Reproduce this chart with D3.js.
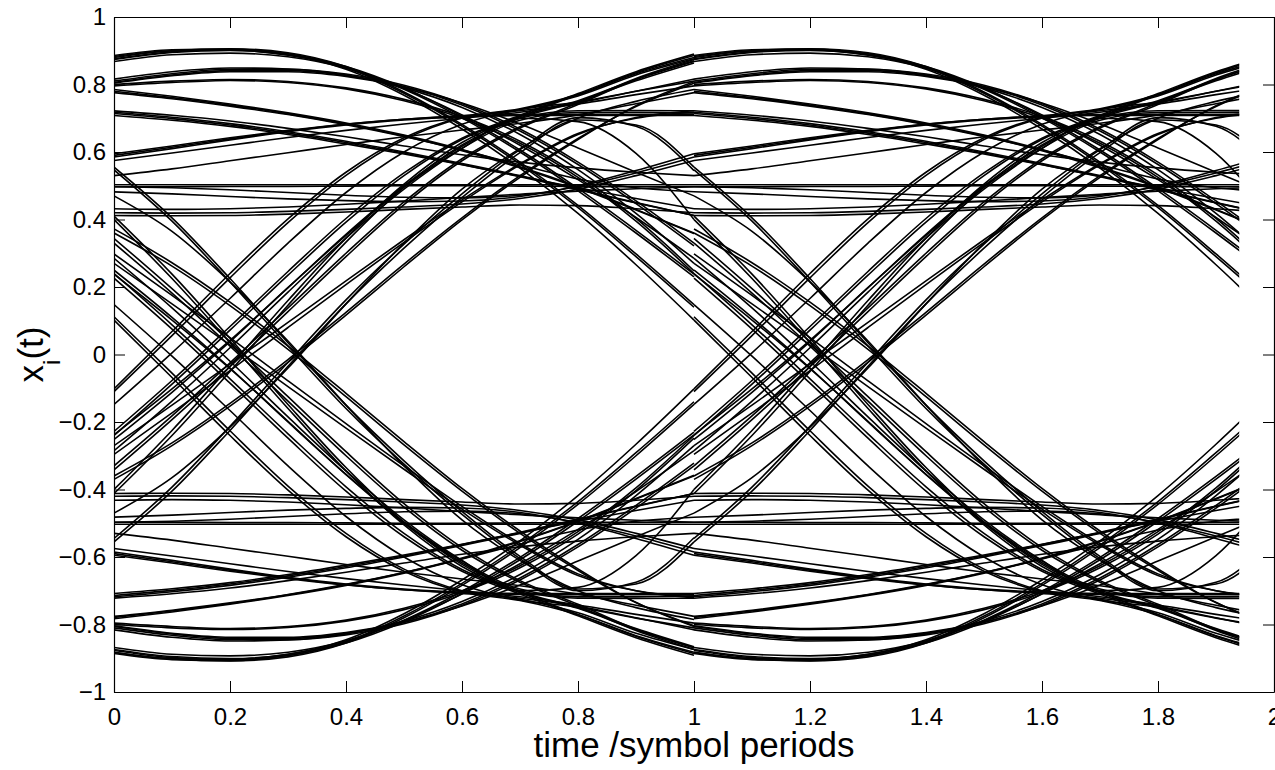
<!DOCTYPE html>
<html>
<head>
<meta charset="utf-8">
<script src="https://cdn.jsdelivr.net/npm/d3@7"></script>
<style>
  body { margin: 0; background: #fff; }
  svg { display: block; }
  text { font-family: "Liberation Sans", Arial, Helvetica, sans-serif; fill: #000; }
</style>
</head>
<body>
<svg id="chart" width="1275" height="770"></svg>
<script>
// Eye diagram: every trace piece is one symbol period long
// at t = 0, 0.1, ... 1.0 and drawn once for each period on the time axis.
const sampleTimes = [0, 0.1, 0.2, 0.3, 0.4, 0.5, 0.6, 0.7, 0.8, 0.9, 1.0];
const periodStarts = [0, 1];
const traceEnd = 1.94;

const xTicks = [0, 0.2, 0.4, 0.6, 0.8, 1, 1.2, 1.4, 1.6, 1.8, 2];
const yTicks = [-1, -0.8, -0.6, -0.4, -0.2, 0, 0.2, 0.4, 0.6, 0.8, 1];

// high arcs, no zero crossing near t = 0.2
const upperArcs = [
  [0.880, 0.900, 0.906, 0.894, 0.853, 0.778, 0.682, 0.570, 0.442, 0.298, 0.148],
  [0.876, 0.897, 0.903, 0.891, 0.850, 0.774, 0.677, 0.564, 0.435, 0.290, 0.140],
  [0.874, 0.895, 0.901, 0.888, 0.845, 0.768, 0.668, 0.552, 0.418, 0.266, 0.102],
  [0.886, 0.903, 0.905, 0.890, 0.853, 0.790, 0.706, 0.606, 0.492, 0.368, 0.238],
  [0.883, 0.900, 0.902, 0.887, 0.850, 0.786, 0.701, 0.600, 0.485, 0.360, 0.230],
  [0.868, 0.888, 0.893, 0.882, 0.848, 0.788, 0.710, 0.620, 0.518, 0.406, 0.285],
  [0.810, 0.832, 0.845, 0.845, 0.831, 0.798, 0.744, 0.668, 0.570, 0.455, 0.330],
  [0.806, 0.828, 0.841, 0.841, 0.827, 0.794, 0.739, 0.662, 0.563, 0.447, 0.322],
  [0.816, 0.838, 0.849, 0.846, 0.828, 0.790, 0.732, 0.652, 0.548, 0.418, 0.270],
  [0.796, 0.806, 0.812, 0.806, 0.787, 0.752, 0.700, 0.626, 0.525, 0.395, 0.240],
  [0.800, 0.810, 0.815, 0.809, 0.790, 0.756, 0.705, 0.632, 0.532, 0.403, 0.248],
  [0.804, 0.826, 0.838, 0.838, 0.824, 0.793, 0.745, 0.683, 0.612, 0.540, 0.470]
];

// low arcs
const lowerArcs = [
  [-0.882, -0.902, -0.908, -0.896, -0.855, -0.780, -0.684, -0.572, -0.444, -0.300, -0.148],
  [-0.877, -0.898, -0.904, -0.892, -0.851, -0.775, -0.678, -0.565, -0.436, -0.291, -0.140],
  [-0.874, -0.895, -0.901, -0.888, -0.845, -0.768, -0.668, -0.552, -0.418, -0.266, -0.102],
  [-0.886, -0.904, -0.907, -0.892, -0.855, -0.792, -0.708, -0.608, -0.494, -0.369, -0.238],
  [-0.883, -0.901, -0.903, -0.888, -0.851, -0.787, -0.702, -0.601, -0.486, -0.361, -0.230],
  [-0.868, -0.888, -0.893, -0.882, -0.848, -0.788, -0.710, -0.620, -0.518, -0.406, -0.285],
  [-0.810, -0.832, -0.845, -0.845, -0.831, -0.798, -0.744, -0.668, -0.570, -0.455, -0.330],
  [-0.806, -0.828, -0.841, -0.841, -0.827, -0.794, -0.739, -0.662, -0.563, -0.447, -0.322],
  [-0.816, -0.838, -0.849, -0.846, -0.828, -0.790, -0.732, -0.652, -0.548, -0.418, -0.270],
  [-0.796, -0.806, -0.812, -0.806, -0.787, -0.752, -0.700, -0.626, -0.525, -0.395, -0.240],
  [-0.800, -0.810, -0.815, -0.809, -0.790, -0.756, -0.705, -0.632, -0.532, -0.403, -0.248],
  [-0.804, -0.826, -0.838, -0.838, -0.824, -0.793, -0.745, -0.683, -0.612, -0.540, -0.470]
];

// slow traces in the upper band
const upperLevels = [
  [0.785, 0.765, 0.742, 0.716, 0.686, 0.650, 0.607, 0.556, 0.497, 0.430, 0.360],
  [0.780, 0.761, 0.739, 0.713, 0.683, 0.647, 0.604, 0.553, 0.494, 0.428, 0.358],
  [0.776, 0.758, 0.736, 0.711, 0.681, 0.646, 0.606, 0.562, 0.520, 0.494, 0.482],
  [0.718, 0.703, 0.684, 0.660, 0.632, 0.600, 0.566, 0.530, 0.490, 0.450, 0.412],
  [0.714, 0.699, 0.680, 0.656, 0.628, 0.597, 0.563, 0.527, 0.488, 0.449, 0.412],
  [0.708, 0.694, 0.676, 0.652, 0.624, 0.594, 0.562, 0.528, 0.494, 0.462, 0.432],
  [0.722, 0.709, 0.692, 0.670, 0.645, 0.618, 0.592, 0.570, 0.553, 0.540, 0.530],
  [0.585, 0.610, 0.636, 0.660, 0.680, 0.695, 0.704, 0.708, 0.708, 0.708, 0.708],
  [0.590, 0.614, 0.639, 0.662, 0.682, 0.697, 0.706, 0.711, 0.712, 0.712, 0.712],
  [0.575, 0.597, 0.620, 0.643, 0.664, 0.683, 0.700, 0.718, 0.742, 0.770, 0.796],
  [0.530, 0.550, 0.574, 0.598, 0.622, 0.645, 0.665, 0.685, 0.710, 0.743, 0.776],
  [0.595, 0.618, 0.642, 0.664, 0.683, 0.697, 0.708, 0.722, 0.746, 0.780, 0.816],
  [0.503, 0.503, 0.503, 0.503, 0.503, 0.503, 0.503, 0.503, 0.503, 0.503, 0.503],
  [0.497, 0.497, 0.498, 0.498, 0.499, 0.500, 0.500, 0.499, 0.498, 0.497, 0.497],
  [0.497, 0.494, 0.488, 0.480, 0.472, 0.466, 0.464, 0.472, 0.498, 0.538, 0.585],
  [0.482, 0.476, 0.468, 0.461, 0.456, 0.453, 0.455, 0.468, 0.500, 0.545, 0.595],
  [0.420, 0.419, 0.420, 0.424, 0.430, 0.437, 0.446, 0.462, 0.490, 0.530, 0.575],
  [0.412, 0.411, 0.412, 0.416, 0.422, 0.430, 0.437, 0.443, 0.441, 0.432, 0.420],
  [0.432, 0.430, 0.432, 0.437, 0.445, 0.455, 0.465, 0.475, 0.484, 0.491, 0.497]
];

// slow traces in the lower band
const lowerLevels = [
  [-0.783, -0.763, -0.740, -0.714, -0.684, -0.648, -0.605, -0.554, -0.495, -0.428, -0.360],
  [-0.779, -0.760, -0.738, -0.712, -0.682, -0.646, -0.603, -0.552, -0.493, -0.427, -0.358],
  [-0.776, -0.758, -0.736, -0.711, -0.681, -0.646, -0.606, -0.562, -0.520, -0.494, -0.482],
  [-0.718, -0.703, -0.684, -0.660, -0.632, -0.600, -0.566, -0.530, -0.490, -0.450, -0.412],
  [-0.714, -0.699, -0.680, -0.656, -0.628, -0.597, -0.563, -0.527, -0.488, -0.449, -0.412],
  [-0.708, -0.694, -0.676, -0.652, -0.624, -0.594, -0.562, -0.528, -0.494, -0.462, -0.432],
  [-0.722, -0.709, -0.692, -0.670, -0.645, -0.618, -0.592, -0.570, -0.553, -0.540, -0.530],
  [-0.585, -0.610, -0.636, -0.660, -0.680, -0.695, -0.704, -0.708, -0.708, -0.708, -0.708],
  [-0.590, -0.614, -0.639, -0.662, -0.682, -0.697, -0.706, -0.711, -0.712, -0.712, -0.712],
  [-0.575, -0.597, -0.620, -0.643, -0.664, -0.683, -0.700, -0.718, -0.742, -0.770, -0.796],
  [-0.530, -0.550, -0.574, -0.598, -0.622, -0.645, -0.665, -0.685, -0.710, -0.743, -0.776],
  [-0.595, -0.618, -0.642, -0.664, -0.683, -0.697, -0.708, -0.722, -0.746, -0.780, -0.816],
  [-0.503, -0.503, -0.503, -0.503, -0.503, -0.503, -0.503, -0.503, -0.503, -0.503, -0.503],
  [-0.497, -0.497, -0.498, -0.498, -0.499, -0.500, -0.500, -0.499, -0.498, -0.497, -0.497],
  [-0.497, -0.494, -0.488, -0.480, -0.472, -0.466, -0.464, -0.472, -0.498, -0.538, -0.585],
  [-0.482, -0.476, -0.468, -0.461, -0.456, -0.453, -0.455, -0.468, -0.500, -0.545, -0.595],
  [-0.420, -0.419, -0.420, -0.424, -0.430, -0.437, -0.446, -0.462, -0.490, -0.530, -0.575],
  [-0.412, -0.411, -0.412, -0.416, -0.422, -0.430, -0.437, -0.443, -0.441, -0.432, -0.420],
  [-0.432, -0.430, -0.432, -0.437, -0.445, -0.455, -0.465, -0.475, -0.484, -0.491, -0.497]
];

// rising through zero near t = 0.2
const risers = [
  [-0.102, 0.068, 0.240, 0.402, 0.540, 0.642, 0.703, 0.728, 0.770, 0.832, 0.880],
  [-0.110, 0.056, 0.227, 0.391, 0.531, 0.637, 0.701, 0.726, 0.766, 0.828, 0.876],
  [-0.148, 0.005, 0.166, 0.330, 0.480, 0.600, 0.682, 0.726, 0.748, 0.780, 0.810],
  [-0.238, -0.102, 0.042, 0.198, 0.356, 0.500, 0.617, 0.700, 0.722, 0.723, 0.722],
  [-0.252, -0.112, 0.038, 0.198, 0.353, 0.496, 0.611, 0.694, 0.717, 0.718, 0.716],
  [-0.285, -0.138, 0.020, 0.185, 0.345, 0.490, 0.610, 0.700, 0.690, 0.596, 0.400],
  [-0.330, -0.182, -0.025, 0.138, 0.300, 0.452, 0.580, 0.675, 0.745, 0.818, 0.874],
  [-0.342, -0.193, -0.036, 0.127, 0.290, 0.444, 0.574, 0.671, 0.741, 0.815, 0.870],
  [-0.360, -0.262, -0.145, -0.015, 0.125, 0.268, 0.405, 0.530, 0.640, 0.735, 0.804],
  [-0.370, -0.270, -0.153, -0.023, 0.117, 0.260, 0.399, 0.525, 0.637, 0.737, 0.808],
  [-0.400, -0.225, -0.035, 0.160, 0.345, 0.505, 0.628, 0.705, 0.752, 0.815, 0.868],
  [-0.412, -0.240, -0.050, 0.146, 0.333, 0.496, 0.621, 0.701, 0.749, 0.811, 0.864],
  [-0.555, -0.405, -0.225, -0.035, 0.150, 0.315, 0.465, 0.598, 0.695, 0.680, 0.555],
  [-0.545, -0.393, -0.213, -0.023, 0.162, 0.327, 0.476, 0.607, 0.702, 0.676, 0.545],
  [-0.270, -0.150, -0.028, 0.095, 0.218, 0.340, 0.458, 0.565, 0.655, 0.700, 0.718],
  [-0.296, -0.173, -0.048, 0.080, 0.207, 0.332, 0.452, 0.562, 0.652, 0.702, 0.722],
  [-0.240, -0.088, 0.072, 0.235, 0.392, 0.530, 0.637, 0.705, 0.770, 0.835, 0.886],
  [-0.228, -0.077, 0.083, 0.246, 0.403, 0.538, 0.641, 0.709, 0.773, 0.838, 0.890],
  [-0.470, -0.365, -0.215, -0.040, 0.150, 0.330, 0.490, 0.610, 0.700, 0.750, 0.785]
];

// falling through zero near t = 0.2
const fallers = [
  [0.102, -0.068, -0.240, -0.402, -0.540, -0.642, -0.703, -0.729, -0.771, -0.833, -0.882],
  [0.112, -0.055, -0.226, -0.390, -0.530, -0.636, -0.700, -0.725, -0.765, -0.826, -0.874],
  [0.148, -0.005, -0.166, -0.330, -0.480, -0.600, -0.682, -0.727, -0.749, -0.781, -0.810],
  [0.238, 0.102, -0.042, -0.198, -0.356, -0.500, -0.617, -0.700, -0.722, -0.723, -0.722],
  [0.250, 0.110, -0.040, -0.200, -0.355, -0.497, -0.612, -0.695, -0.718, -0.718, -0.715],
  [0.285, 0.138, -0.020, -0.185, -0.345, -0.490, -0.610, -0.700, -0.690, -0.596, -0.400],
  [0.330, 0.182, 0.025, -0.138, -0.300, -0.452, -0.580, -0.675, -0.745, -0.818, -0.874],
  [0.344, 0.195, 0.038, -0.125, -0.288, -0.442, -0.572, -0.670, -0.740, -0.814, -0.869],
  [0.360, 0.262, 0.145, 0.015, -0.125, -0.268, -0.405, -0.530, -0.640, -0.735, -0.804],
  [0.372, 0.272, 0.155, 0.025, -0.115, -0.258, -0.397, -0.523, -0.635, -0.735, -0.806],
  [0.400, 0.225, 0.035, -0.160, -0.345, -0.505, -0.628, -0.705, -0.752, -0.815, -0.868],
  [0.410, 0.238, 0.048, -0.148, -0.335, -0.497, -0.622, -0.702, -0.750, -0.812, -0.866],
  [0.555, 0.405, 0.225, 0.035, -0.150, -0.315, -0.465, -0.598, -0.695, -0.680, -0.555],
  [0.547, 0.395, 0.215, 0.025, -0.160, -0.325, -0.474, -0.605, -0.700, -0.675, -0.543],
  [0.270, 0.150, 0.028, -0.095, -0.218, -0.340, -0.458, -0.565, -0.655, -0.700, -0.718],
  [0.298, 0.175, 0.050, -0.078, -0.205, -0.330, -0.450, -0.560, -0.650, -0.700, -0.721],
  [0.240, 0.088, -0.072, -0.235, -0.392, -0.530, -0.637, -0.705, -0.770, -0.835, -0.886],
  [0.226, 0.075, -0.085, -0.248, -0.405, -0.540, -0.642, -0.710, -0.774, -0.839, -0.891],
  [0.470, 0.365, 0.215, 0.040, -0.150, -0.330, -0.490, -0.610, -0.700, -0.750, -0.785]
];

const traces = [].concat(upperArcs, lowerArcs, upperLevels, lowerLevels, risers, fallers);

// ---- layout ----
const svg = d3.select("#chart");
const plot = { left: 114, right: 1274, top: 17, bottom: 692 };
const tickLen = 11;

const x = d3.scaleLinear().domain([0, 2]).range([plot.left, plot.right]);
const y = d3.scaleLinear().domain([-1, 1]).range([plot.bottom, plot.top]);
const fmt = d3.format("~g");

svg.append("clipPath").attr("id", "traceClip")
  .append("rect")
  .attr("x", x(0))
  .attr("y", y(1))
  .attr("width", x(traceEnd) - x(0))
  .attr("height", y(-1) - y(1));

// traces
const line = d3.line()
  .x(d => x(d[0]))
  .y(d => y(d[1]))
  .curve(d3.curveMonotoneX);

const gTraces = svg.append("g")
  .attr("clip-path", "url(#traceClip)")
  .attr("fill", "none")
  .attr("stroke", "#000")
  .attr("stroke-width", 1.6)
  .attr("stroke-linejoin", "round");

periodStarts.forEach(p => {
  traces.forEach(vals => {
    const pts = sampleTimes.map((t, i) => [p + t, vals[i]]);
    gTraces.append("path").attr("d", line(pts));
  });
});

// axes: MATLAB style box with inward ticks on all sides
function styleAxis(g) {
  g.attr("font-size", null).attr("font-family", null);
  g.selectAll("path.domain").attr("stroke", "#000").attr("stroke-width", 1.2);
  g.selectAll(".tick line").attr("stroke", "#000").attr("stroke-width", 1);
  g.selectAll(".tick text")
    .attr("font-size", 24)
    .attr("fill", "#000");
}

svg.append("g")
  .attr("transform", `translate(0,${plot.bottom})`)
  .call(d3.axisBottom(x).tickValues(xTicks).tickFormat(fmt)
    .tickSizeInner(-tickLen).tickSizeOuter(0).tickPadding(16))
  .call(styleAxis);

svg.append("g")
  .attr("transform", `translate(0,${plot.top})`)
  .call(d3.axisTop(x).tickValues(xTicks).tickFormat("")
    .tickSizeInner(-tickLen).tickSizeOuter(0))
  .call(styleAxis);

svg.append("g")
  .attr("transform", `translate(${plot.left},0)`)
  .call(d3.axisLeft(y).tickValues(yTicks).tickFormat(fmt)
    .tickSizeInner(-tickLen).tickSizeOuter(0).tickPadding(8))
  .call(styleAxis);

svg.append("g")
  .attr("transform", `translate(${plot.right},0)`)
  .call(d3.axisRight(y).tickValues(yTicks).tickFormat("")
    .tickSizeInner(-tickLen).tickSizeOuter(0))
  .call(styleAxis);

// axis titles
svg.append("text")
  .attr("x", x(1))
  .attr("y", 757)
  .attr("text-anchor", "middle")
  .style("font-size", "35px")
  .text("time /symbol periods");

const yTitle = svg.append("text")
  .attr("transform", `translate(43,${y(0)}) rotate(-90)`)
  .attr("text-anchor", "middle")
  .style("font-size", "35px");
yTitle.append("tspan").text("x");
yTitle.append("tspan").attr("dy", 17).style("font-size", "24px").text("i");
yTitle.append("tspan").attr("dy", -17).text("(t)");
</script>
</body>
</html>
